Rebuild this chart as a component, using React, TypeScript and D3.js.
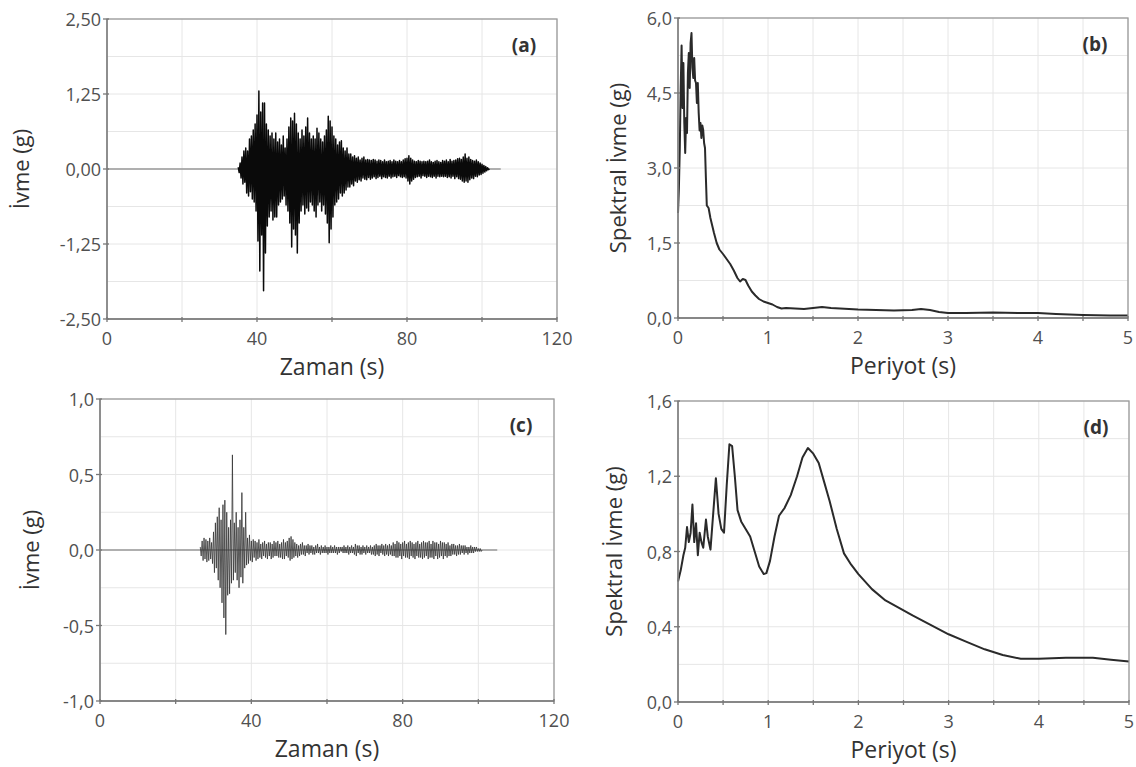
import React from 'react';
import * as d3 from 'd3';

// (a) ivme kaydi, 35 s'den itibaren 0.25 s aralikla okunan degerler (g)
const accelStartA = 35;
const accelStepA = 0.25;
const accelA = [
  0.03, -0.06, 0.1, -0.15, 0.2, -0.25, 0.3, -0.22, 0.35, -0.4, 0.3, -0.45, 0.5, -0.38, 0.55, -0.5, 0.65, -0.55, 0.75, -0.7,
  0.9, -1.2, 1.3, -1.7, 0.95, -1.1, 1.1, -2.03, 1.1, -1.4, 0.75, -0.95, 0.65, -0.8, 0.55, -0.7, 0.6, -0.85, 0.5, -0.8,
  0.6, -0.8, 0.45, -0.6, 0.5, -0.55, 0.4, -0.5, 0.55, -0.45, 0.35, -0.6, 0.5, -0.7, 0.7, -0.9, 0.85, -1.3, 0.8, -1.0,
  0.93, -1.1, 0.75, -1.4, 0.6, -0.9, 0.5, -0.7, 0.65, -0.6, 0.55, -0.75, 0.7, -0.65, 0.85, -0.7, 0.6, -0.55, 0.5, -0.6,
  0.55, -0.7, 0.5, -0.8, 0.68, -0.6, 0.6, -0.55, 0.5, -0.7, 0.45, -0.6, 0.55, -0.75, 0.65, -0.9, 0.88, -1.23, 0.8, -1.0,
  0.7, -0.8, 0.55, -0.6, 0.5, -0.55, 0.4, -0.5, 0.45, -0.4, 0.47, -0.45, 0.35, -0.4, 0.3, -0.35, 0.35, -0.3, 0.25, -0.3,
  0.25, -0.25, 0.2, -0.28, 0.22, -0.2, 0.18, -0.22, 0.2, -0.18, 0.15, -0.2, 0.18, -0.15, 0.2, -0.17, 0.15, -0.18, 0.16, -0.14,
  0.15, -0.17, 0.14, -0.15, 0.16, -0.13, 0.15, -0.16, 0.13, -0.14, 0.15, -0.12, 0.14, -0.16, 0.12, -0.13, 0.15, -0.14, 0.12, -0.15,
  0.13, -0.12, 0.14, -0.15, 0.12, -0.13, 0.15, -0.12, 0.13, -0.14, 0.12, -0.11, 0.14, -0.13, 0.12, -0.14, 0.15, -0.13, 0.17, -0.15,
  0.18, -0.2, 0.22, -0.25, 0.18, -0.2, 0.15, -0.17, 0.13, -0.14, 0.12, -0.13, 0.14, -0.12, 0.13, -0.15, 0.12, -0.11, 0.13, -0.12,
  0.12, -0.14, 0.13, -0.12, 0.15, -0.13, 0.12, -0.14, 0.11, -0.12, 0.13, -0.15, 0.14, -0.12, 0.12, -0.13, 0.11, -0.12, 0.14, -0.13,
  0.13, -0.12, 0.15, -0.14, 0.12, -0.13, 0.16, -0.15, 0.13, -0.12, 0.14, -0.16, 0.15, -0.13, 0.17, -0.16, 0.18, -0.17, 0.16, -0.2,
  0.2, -0.22, 0.25, -0.2, 0.18, -0.22, 0.2, -0.18, 0.16, -0.15, 0.14, -0.16, 0.13, -0.12, 0.15, -0.13, 0.12, -0.1, 0.1, -0.09,
  0.08, -0.07, 0.06, -0.05, 0.04, -0.03, 0.02, -0.01, 0,
];

// (b) spektral ivme
const periodB = [
  0, 0.01, 0.02, 0.03, 0.04, 0.05, 0.06, 0.07, 0.08, 0.09, 0.1, 0.11, 0.12, 0.13, 0.14, 0.15, 0.16, 0.17, 0.18, 0.19,
  0.2, 0.21, 0.22, 0.23, 0.24, 0.25, 0.26, 0.27, 0.28, 0.29, 0.3, 0.31, 0.32, 0.34, 0.36, 0.38, 0.4, 0.43, 0.46, 0.5,
  0.54, 0.58, 0.62, 0.66, 0.69, 0.72, 0.75, 0.78, 0.82, 0.86, 0.9, 0.95, 1.0, 1.05, 1.1, 1.15, 1.2, 1.3, 1.4, 1.5,
  1.6, 1.7, 1.8, 1.9, 2.0, 2.2, 2.4, 2.6, 2.7, 2.8, 2.9, 3.0, 3.2, 3.5, 3.8, 4.0, 4.2, 4.5, 4.8, 5.0,
];
const saB = [
  2.1, 2.6, 3.4, 4.6, 5.45, 4.2, 5.1, 3.9, 3.3, 4.0, 3.7, 4.9, 5.3, 4.6, 5.5, 5.7, 5.0, 4.8, 5.2, 4.75,
  4.7, 4.3, 4.7, 4.1, 3.75, 3.9, 3.6, 3.85, 3.76, 3.5, 3.4, 2.8, 2.25, 2.2, 2.0, 1.85, 1.7, 1.5, 1.37, 1.28,
  1.18, 1.08, 0.95, 0.8, 0.73, 0.78, 0.76, 0.65, 0.53, 0.45, 0.38, 0.33, 0.3, 0.27, 0.22, 0.19, 0.2, 0.19, 0.18, 0.2,
  0.22, 0.2, 0.19, 0.18, 0.17, 0.16, 0.15, 0.16, 0.18, 0.16, 0.12, 0.1, 0.1, 0.11, 0.1, 0.1, 0.08, 0.06, 0.05, 0.05,
];

// (c) ivme kaydi, 26.5 s'den itibaren 0.25 s aralikla (g)
const accelStartC = 26.5;
const accelStepC = 0.25;
const accelC = [
  0.02, -0.04, 0.06, -0.07, 0.08, -0.06, 0.07, -0.08, 0.06, -0.07, 0.08, -0.06, 0.05, -0.09, 0.12, -0.15, 0.18, -0.12, 0.22, -0.2,
  0.28, -0.25, 0.2, -0.35, 0.3, -0.45, 0.33, -0.56, 0.25, -0.3, 0.15, -0.29, 0.2, -0.22, 0.63, -0.2, 0.18, -0.15, 0.25, -0.2,
  0.15, -0.25, 0.2, -0.18, 0.38, -0.22, 0.15, -0.12, 0.25, -0.1, 0.08, -0.09, 0.1, -0.07, 0.06, -0.08, 0.07, -0.05, 0.06, -0.07,
  0.05, -0.06, 0.07, -0.05, 0.04, -0.06, 0.05, -0.04, 0.06, -0.05, 0.04, -0.06, 0.05, -0.04, 0.05, -0.06, 0.04, -0.05, 0.06, -0.04,
  0.05, -0.04, 0.06, -0.05, 0.04, -0.05, 0.05, -0.06, 0.07, -0.06, 0.05, -0.04, 0.06, -0.05, 0.08, -0.07, 0.09, -0.06, 0.07, -0.05,
  0.05, -0.04, 0.04, -0.05, 0.03, -0.04, 0.04, -0.03, 0.05, -0.03, 0.03, -0.04, 0.03, -0.02, 0.04, -0.03, 0.03, -0.02, 0.03, -0.03,
  0.02, -0.03, 0.03, -0.02, 0.04, -0.02, 0.02, -0.03, 0.03, -0.02, 0.02, -0.02, 0.03, -0.02, 0.02, -0.03, 0.02, -0.02, 0.03, -0.02,
  0.02, -0.02, 0.03, -0.02, 0.02, -0.03, 0.02, -0.02, 0.02, -0.01, 0.02, -0.02, 0.03, -0.02, 0.02, -0.02, 0.03, -0.03, 0.02, -0.02,
  0.03, -0.02, 0.02, -0.03, 0.04, -0.04, 0.03, -0.02, 0.03, -0.03, 0.02, -0.03, 0.03, -0.02, 0.02, -0.03, 0.03, -0.02, 0.02, -0.02,
  0.03, -0.03, 0.02, -0.03, 0.03, -0.04, 0.04, -0.03, 0.03, -0.04, 0.03, -0.02, 0.04, -0.03, 0.03, -0.04, 0.04, -0.03, 0.03, -0.04,
  0.04, -0.03, 0.03, -0.04, 0.05, -0.04, 0.04, -0.05, 0.06, -0.05, 0.05, -0.04, 0.04, -0.06, 0.05, -0.04, 0.06, -0.05, 0.04, -0.05,
  0.05, -0.06, 0.06, -0.04, 0.05, -0.05, 0.04, -0.06, 0.05, -0.04, 0.06, -0.05, 0.04, -0.05, 0.05, -0.06, 0.06, -0.05, 0.05, -0.04,
  0.05, -0.06, 0.06, -0.05, 0.04, -0.05, 0.06, -0.06, 0.05, -0.04, 0.05, -0.06, 0.04, -0.05, 0.06, -0.04, 0.05, -0.06, 0.05, -0.04,
  0.04, -0.05, 0.05, -0.04, 0.03, -0.04, 0.04, -0.03, 0.04, -0.03, 0.03, -0.04, 0.03, -0.03, 0.04, -0.03, 0.03, -0.02, 0.03, -0.03,
  0.03, -0.02, 0.02, -0.03, 0.02, -0.02, 0.03, -0.02, 0.02, -0.02, 0.02, -0.01, 0.02, -0.01, 0.01, -0.01, 0.01, -0.01, 0,
];

// (d) spektral ivme
const periodD = [
  0, 0.03, 0.06, 0.08, 0.1, 0.12, 0.14, 0.16, 0.18, 0.2, 0.22, 0.24, 0.26, 0.28, 0.31, 0.33, 0.36, 0.39, 0.42, 0.45,
  0.48, 0.51, 0.54, 0.57, 0.6, 0.63, 0.66, 0.7, 0.75, 0.8, 0.85, 0.9, 0.95, 0.98, 1.02, 1.07, 1.12, 1.18, 1.25, 1.32,
  1.38, 1.44, 1.5, 1.56, 1.62, 1.68, 1.76, 1.84, 1.92, 2.0, 2.15, 2.3, 2.45, 2.6, 2.8, 3.0, 3.2, 3.4, 3.6, 3.8,
  4.0, 4.3, 4.6, 4.8, 5.0,
];
const saD = [
  0.64, 0.7, 0.78, 0.82, 0.93, 0.85, 0.9, 1.05, 0.85, 0.95, 0.78, 0.9, 0.85, 0.82, 0.97, 0.88, 0.81, 1.0, 1.19, 1.0,
  0.92, 0.9, 1.15, 1.37, 1.36, 1.2, 1.02, 0.96, 0.92, 0.88, 0.8, 0.72, 0.68, 0.685, 0.75, 0.88, 0.99, 1.03, 1.1, 1.2,
  1.3, 1.35, 1.32, 1.27, 1.17, 1.07, 0.92, 0.79, 0.73, 0.68, 0.6, 0.54, 0.5, 0.46, 0.41, 0.36, 0.32, 0.28, 0.25, 0.23,
  0.23, 0.235, 0.235, 0.225, 0.215,
];

const timeTicks = [0, 40, 80, 120];
const periodTicks = [0, 1, 2, 3, 4, 5];
const yTicksA = [-2.5, -1.25, 0, 1.25, 2.5];
const yTicksB = [0, 1.5, 3, 4.5, 6];
const yTicksC = [-1, -0.5, 0, 0.5, 1];
const yTicksD = [0, 0.4, 0.8, 1.2, 1.6];

const FONT = '"Open Sans", "DejaVu Sans", sans-serif';

type Box = { left: number; right: number; top: number; bottom: number };

type PanelProps = {
  box: Box;
  xDomain: [number, number];
  yDomain: [number, number];
  xTicks: number[];
  xMinor: number;
  yTicks: number[];
  yMinor: number;
  yDigits: number;
  xTitle: string;
  yTitle: string;
  yTitleOffset: number;
  tag: string;
  points: [number, number][];
  lineColor: string;
  lineWidth: number;
  baselineEnd?: number;
};

const fmt = (v: number, digits: number) => v.toFixed(digits).replace('.', ',');

const Panel = (p: PanelProps) => {
  const { box } = p;
  const x = d3.scaleLinear().domain(p.xDomain).range([box.left, box.right]);
  const y = d3.scaleLinear().domain(p.yDomain).range([box.bottom, box.top]);

  const xMinorTicks = d3.range(p.xDomain[0], p.xDomain[1] + 1e-9, p.xMinor);
  const yMinorTicks = d3.range(p.yDomain[0], p.yDomain[1] + 1e-9, p.yMinor);

  const line = d3.line<[number, number]>()
    .x(d => x(d[0]))
    .y(d => y(d[1]));

  return (
    <g>
      {/* grid */}
      {xMinorTicks.map(t => (
        <line key={'gx' + t} x1={x(t)} x2={x(t)} y1={box.top} y2={box.bottom} stroke="#e6e6e6" strokeWidth={1} />
      ))}
      {yMinorTicks.map(t => (
        <line key={'gy' + t} x1={box.left} x2={box.right} y1={y(t)} y2={y(t)} stroke="#e6e6e6" strokeWidth={1} />
      ))}

      {p.baselineEnd !== undefined && (
        <line x1={x(0)} x2={x(p.baselineEnd)} y1={y(0)} y2={y(0)} stroke="#999" strokeWidth={1.3} />
      )}

      <path
        d={line(p.points) || ''}
        fill="none"
        stroke={p.lineColor}
        strokeWidth={p.lineWidth}
        strokeLinejoin="round"
      />

      {/* frame */}
      <rect x={box.left} y={box.top} width={box.right - box.left} height={box.bottom - box.top}
        fill="none" stroke="#9a9a9a" strokeWidth={1.3} />
      <line x1={box.left} x2={box.right} y1={box.bottom} y2={box.bottom} stroke="#777" strokeWidth={1.3} />
      <line x1={box.left} x2={box.left} y1={box.top} y2={box.bottom} stroke="#777" strokeWidth={1.3} />

      {/* tick marks */}
      {xMinorTicks.map(t => (
        <line key={'tx' + t} x1={x(t)} x2={x(t)} y1={box.bottom - 2} y2={box.bottom + 3} stroke="#777" strokeWidth={1.3} />
      ))}
      {p.yTicks.map(t => (
        <line key={'ty' + t} x1={box.left - 4} x2={box.left + 2} y1={y(t)} y2={y(t)} stroke="#777" strokeWidth={1.3} />
      ))}

      {/* tick labels */}
      {p.xTicks.map(t => (
        <text key={'lx' + t} x={x(t)} y={box.bottom + 19} textAnchor="middle" dominantBaseline="central"
          fontFamily={FONT} fontSize={18} fill="#505050">{t}</text>
      ))}
      {p.yTicks.map(t => (
        <text key={'ly' + t} x={box.left - 6} y={y(t)} textAnchor="end" dominantBaseline="central"
          fontFamily={FONT} fontSize={18} fill="#505050">{fmt(t, p.yDigits)}</text>
      ))}

      {/* titles */}
      <text x={(box.left + box.right) / 2} y={box.bottom + 47} textAnchor="middle" dominantBaseline="central"
        fontFamily={FONT} fontSize={23} fill="#333">{p.xTitle}</text>
      <text transform={`translate(${box.left - p.yTitleOffset}, ${(box.top + box.bottom) / 2}) rotate(-90)`}
        textAnchor="middle" dominantBaseline="central" fontFamily={FONT} fontSize={22} fill="#333">{p.yTitle}</text>
      <text x={box.right - 33} y={box.top + 26} textAnchor="middle" dominantBaseline="central"
        fontFamily={FONT} fontSize={19} fontWeight="bold" fill="#333">{p.tag}</text>
    </g>
  );
};

const App = () => {
  const pointsA: [number, number][] = accelA.map((v, i) => [accelStartA + i * accelStepA, v]);
  const pointsC: [number, number][] = accelC.map((v, i) => [accelStartC + i * accelStepC, v]);
  const pointsB: [number, number][] = periodB.map((t, i) => [t, saB[i]]);
  const pointsD: [number, number][] = periodD.map((t, i) => [t, saD[i]]);

  return (
    <svg width={1136} height={767} style={{ position: 'absolute', left: 0, top: 0, background: '#fff' }}>
      <rect width={1136} height={767} fill="#fff" />
      <Panel box={{ left: 107, right: 557, top: 19, bottom: 319 }} xDomain={[0, 120]} yDomain={[-2.5, 2.5]}
        xTicks={timeTicks} xMinor={20} yTicks={yTicksA} yMinor={0.625} yDigits={2}
        xTitle="Zaman (s)" yTitle="İvme (g)" yTitleOffset={87} tag="(a)" points={pointsA}
        lineColor="#0a0a0a" lineWidth={1.5} baselineEnd={105} />
      <Panel box={{ left: 678, right: 1128, top: 18, bottom: 318 }} xDomain={[0, 5]} yDomain={[0, 6]}
        xTicks={periodTicks} xMinor={0.5} yTicks={yTicksB} yMinor={0.75} yDigits={1}
        xTitle="Periyot (s)" yTitle="Spektral İvme (g)" yTitleOffset={61} tag="(b)" points={pointsB}
        lineColor="#2a2a2a" lineWidth={2} />
      <Panel box={{ left: 100, right: 554, top: 399, bottom: 701 }} xDomain={[0, 120]} yDomain={[-1, 1]}
        xTicks={timeTicks} xMinor={20} yTicks={yTicksC} yMinor={0.25} yDigits={1}
        xTitle="Zaman (s)" yTitle="İvme (g)" yTitleOffset={70} tag="(c)" points={pointsC}
        lineColor="#333" lineWidth={0.8} baselineEnd={105} />
      <Panel box={{ left: 678, right: 1129, top: 401, bottom: 702 }} xDomain={[0, 5]} yDomain={[0, 1.6]}
        xTicks={periodTicks} xMinor={0.5} yTicks={yTicksD} yMinor={0.2} yDigits={1}
        xTitle="Periyot (s)" yTitle="Spektral İvme (g)" yTitleOffset={65} tag="(d)" points={pointsD}
        lineColor="#2a2a2a" lineWidth={2} />
    </svg>
  );
};

export default App;
